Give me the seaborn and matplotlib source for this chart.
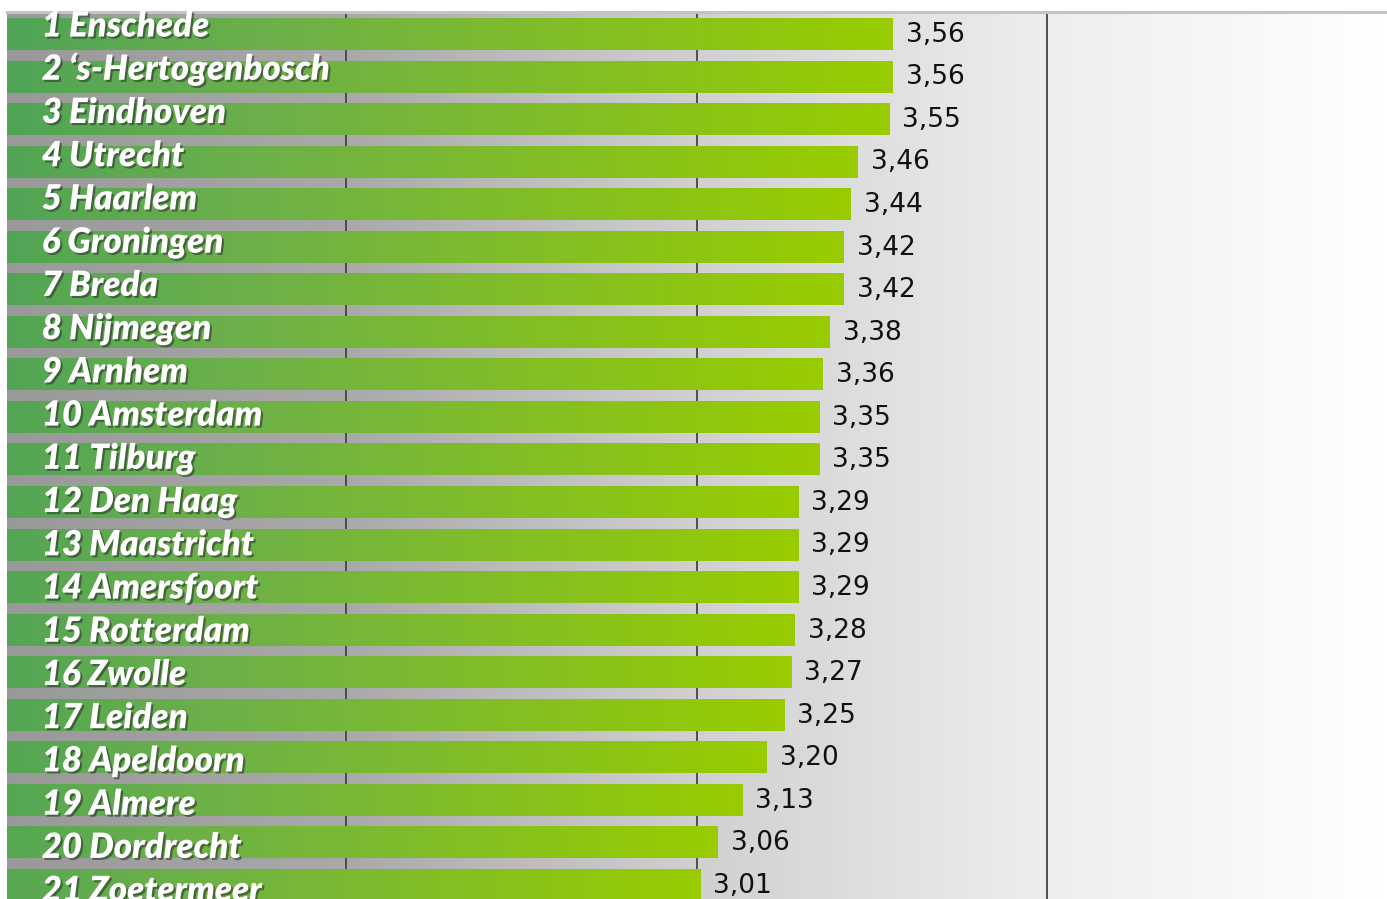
import matplotlib
matplotlib.use("Agg")
import matplotlib.pyplot as plt
import matplotlib.patheffects as pe
from matplotlib.colors import LinearSegmentedColormap
import numpy as np
import seaborn as sns

cities = [
    "1 Enschede", "2 ‘s-Hertogenbosch", "3 Eindhoven", "4 Utrecht", "5 Haarlem",
    "6 Groningen", "7 Breda", "8 Nijmegen", "9 Arnhem", "10 Amsterdam",
    "11 Tilburg", "12 Den Haag", "13 Maastricht", "14 Amersfoort", "15 Rotterdam",
    "16 Zwolle", "17 Leiden", "18 Apeldoorn", "19 Almere", "20 Dordrecht",
    "21 Zoetermeer",
]
scores = [
    3.56, 3.56, 3.55, 3.46, 3.44,
    3.42, 3.42, 3.38, 3.36, 3.35,
    3.35, 3.29, 3.29, 3.29, 3.28,
    3.27, 3.25, 3.20, 3.13, 3.06,
    3.01,
]
grid_ticks = [2, 3, 4]

sns.set_style("white")

fig = plt.figure(figsize=(13.87, 8.99), dpi=100)
ax = fig.add_axes([7 / 1387, 0, 1380 / 1387, 887 / 899])

sns.barplot(x=scores, y=cities, orient="h", width=0.75, ax=ax)

# grey background fading to white
bg_cmap = LinearSegmentedColormap.from_list(
    "bg", [(0, "#999999"), (0.245, "#a9a9a9"), (0.5, "#d0d0d0"),
           (0.754, "#eeeeee"), (1, "#ffffff")])
ax.imshow(np.linspace(0, 1, 512)[None, :], cmap=bg_cmap, aspect="auto",
          extent=[0, 1, 0, 1], transform=ax.transAxes, zorder=0)

# per-bar green gradient
bar_cmap = LinearSegmentedColormap.from_list(
    "bar", [(0, "#339966"), (0.15, "#3d9c5e"), (0.5, "#6cb04a"), (1, "#99cc00")])
grad = np.linspace(0, 1, 256)[None, :]
for p in ax.patches:
    x0, y0 = p.get_x(), p.get_y()
    w, h = p.get_width(), p.get_height()
    p.set_facecolor("none")
    p.set_edgecolor("none")
    ax.imshow(grad, cmap=bar_cmap, aspect="auto", interpolation="bilinear",
              extent=[x0, x0 + w, y0 + h, y0], zorder=2)

ax.set_xlim(1.0328, 4.970)
ax.set_ylim(20.33, -0.517)

# city labels sit a little lower on each following row
shadow = [pe.withSimplePatchShadow(offset=(1.5, -1.5), shadow_rgbFace="#2a2a2a", alpha=0.55)]
for i, (city, v) in enumerate(zip(cities, scores)):
    ax.text(1.132, i * 1.016 + 0.06, city, color="white", fontsize=25,
            fontweight="heavy", fontstyle="italic", family=["Lato", "DejaVu Sans"],
            va="baseline", ha="left", zorder=4, path_effects=shadow)
    ax.text(v + 0.037, i + 0.02, f"{v:.2f}".replace(".", ","), color="#111111",
            fontsize=19, family="DejaVu Sans", va="center", ha="left", zorder=4)

ax.set_xticks(grid_ticks)
ax.set_yticks([])
ax.tick_params(axis="x", length=0, labelbottom=False)
ax.grid(axis="x", color="#444444", linewidth=1.3)
ax.set_axisbelow(True)
ax.set_xlabel("")
ax.set_ylabel("")
for side in ["left", "right", "bottom"]:
    ax.spines[side].set_visible(False)
ax.spines["top"].set_visible(True)
ax.spines["top"].set_color("#c4c4c4")
ax.spines["top"].set_linewidth(2.2)

fig.savefig("out.png", dpi=100)
